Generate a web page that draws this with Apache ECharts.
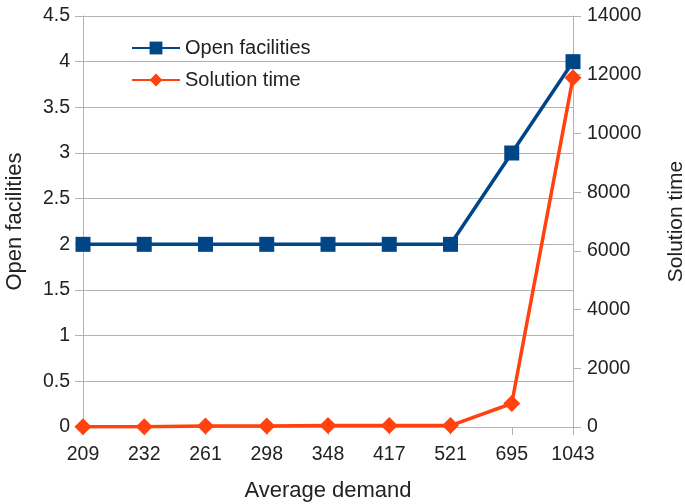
<!DOCTYPE html>
<html><head><meta charset="utf-8">
<script src="https://cdn.jsdelivr.net/npm/echarts@6/dist/echarts.min.js"></script>
<style>html,body{margin:0;padding:0;background:#fff}#c{width:685px;height:504px}</style>
</head><body><div id="c"></div>
<script>
var categories = ['209','232','261','298','348','417','521','695','1043'];
var openFacilities = [2,2,2,2,2,2,2,3,4];
var solutionTime = [10,10,30,30,50,50,50,800,11900];

var chart = echarts.init(document.getElementById('c'));
var font = 'Liberation Sans';
chart.setOption({
  animation:false,
  textStyle:{fontFamily:font},
  grid:{left:83,right:112,top:16,bottom:77,containLabel:false,outerBoundsMode:'none'},
  legend:{
    left:126, top:33, orient:'vertical', itemGap:12, itemWidth:48, itemHeight:16,
    textStyle:{fontFamily:font,fontSize:20,color:'#222'},
    data:['Open facilities','Solution time']
  },
  xAxis:{
    type:'category', data:categories, boundaryGap:false,
    name:'Average demand', nameLocation:'middle', nameGap:53,
    nameTextStyle:{fontFamily:font,fontSize:22,color:'#222'},
    axisLine:{lineStyle:{color:'#b3b3b3'}},
    axisTick:{show:true,alignWithLabel:true,length:8,lineStyle:{color:'#b3b3b3'}},
    axisLabel:{fontFamily:font,fontSize:19.5,color:'#222',margin:18,interval:0},
    splitLine:{show:false}
  },
  yAxis:[{
    type:'value', min:0, max:4.5, interval:0.5,
    name:'Open facilities', nameLocation:'middle', nameGap:57, nameRotate:90,
    nameTextStyle:{fontFamily:font,fontSize:22,color:'#222'},
    axisLine:{show:true,lineStyle:{color:'#b3b3b3'}},
    axisTick:{show:true,length:8,lineStyle:{color:'#b3b3b3'}},
    axisLabel:{fontFamily:font,fontSize:19.5,color:'#222',margin:13},
    splitLine:{show:true,lineStyle:{color:'#b3b3b3',width:1}}
  },{
    type:'value', min:0, max:14000, interval:2000,
    name:'Solution time', nameLocation:'middle', nameGap:93, nameRotate:90,
    nameTextStyle:{fontFamily:font,fontSize:21,color:'#222'},
    axisLine:{show:true,lineStyle:{color:'#b3b3b3'}},
    axisTick:{show:true,length:8,lineStyle:{color:'#b3b3b3'}},
    axisLabel:{fontFamily:font,fontSize:19.5,color:'#222',margin:14,formatter:function(v){return String(v);}},
    splitLine:{show:false}
  }],
  series:[{
    name:'Open facilities', type:'line', yAxisIndex:0, data:openFacilities,
    symbol:'rect', symbolSize:15, color:'#004586',
    lineStyle:{width:3.5,color:'#004586'}, itemStyle:{color:'#004586'}, z:3
  },{
    name:'Solution time', type:'line', yAxisIndex:1, data:solutionTime,
    symbol:'diamond', symbolSize:17, color:'#ff420e',
    lineStyle:{width:3.5,color:'#ff420e'}, itemStyle:{color:'#ff420e'}, z:4
  }]
});
</script></body></html>
